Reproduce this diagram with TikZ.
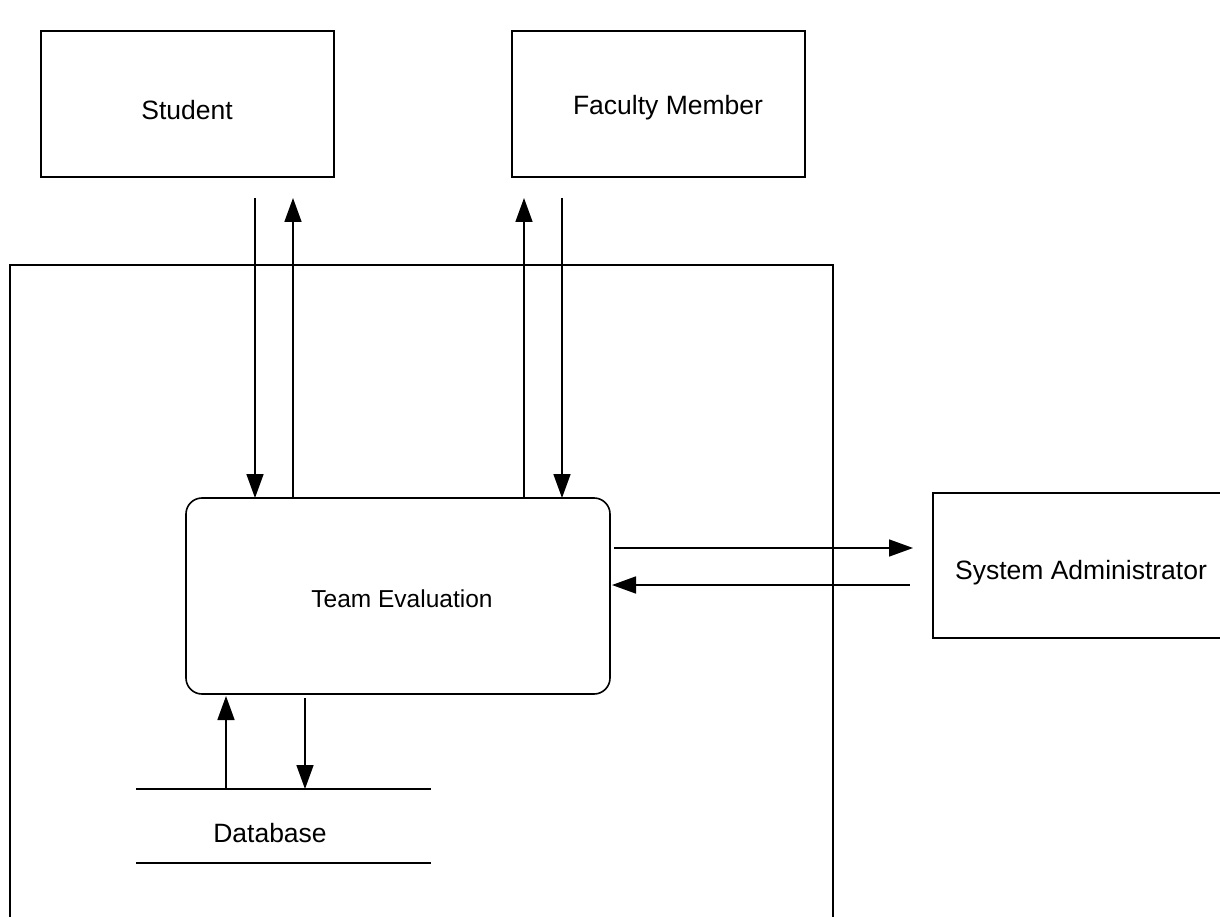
\documentclass[tikz,border=0pt]{standalone}
\usepackage{fontspec}
\setmainfont{Liberation Sans}
\usetikzlibrary{arrows.meta}
\begin{document}
\begin{tikzpicture}[x=1pt,y=-1pt,
  lbl/.style={font=\fontsize{26.5}{30}\selectfont, inner sep=0pt},
  flow/.style={line width=1.6pt, -{Triangle[length=24pt,width=17pt]}},
  edge/.style={line width=1.6pt}]
\useasboundingbox (0,0) rectangle (1220,917);
% boxes
\draw[edge] (41,31) rectangle (334,177);
\node[lbl] (student) at (187,110) {Student};
\draw[edge] (512,31) rectangle (805,177);
\node[lbl] (faculty) at (668,108) {Faculty Member};
% system boundary (open bottom)
\draw[edge] (10,930) -- (10,265) -- (833,265) -- (833,930);
% team evaluation
\draw[edge, rounded corners=16pt] (186,498) rectangle (610,694);
\node[lbl, font=\fontsize{24.5}{28}\selectfont] (te) at (402,599) {Team Evaluation};
% sys admin (right edge off the picture)
\draw[edge] (1230,493) -- (933,493) -- (933,638) -- (1230,638);
\node[lbl] (sa) at (1081,573) {System Administrator};
% database
\draw[edge] (136,789) -- (431,789);
\draw[edge] (136,863) -- (431,863);
\node[lbl] (db) at (270,833) {Database};
% connector endpoints
\coordinate (s1) at (255,198); \coordinate (t1) at (255,498);
\coordinate (s2) at (293,498); \coordinate (t2) at (293,198);
\coordinate (s3) at (524,498); \coordinate (t3) at (524,198);
\coordinate (s4) at (562,198); \coordinate (t4) at (562,498);
\coordinate (s5) at (614,548); \coordinate (t5) at (913,548);
\coordinate (s6) at (910,585); \coordinate (t6) at (612,585);
\coordinate (s7) at (226,789); \coordinate (t7) at (226,696);
\coordinate (s8) at (305,698); \coordinate (t8) at (305,789);
\draw[flow] (s1) -- (t1);
\draw[flow] (s2) -- (t2);
\draw[flow] (s3) -- (t3);
\draw[flow] (s4) -- (t4);
\draw[flow] (s5) -- (t5);
\draw[flow] (s6) -- (t6);
\draw[flow] (s7) -- (t7);
\draw[flow] (s8) -- (t8);
\end{tikzpicture}
\end{document}
